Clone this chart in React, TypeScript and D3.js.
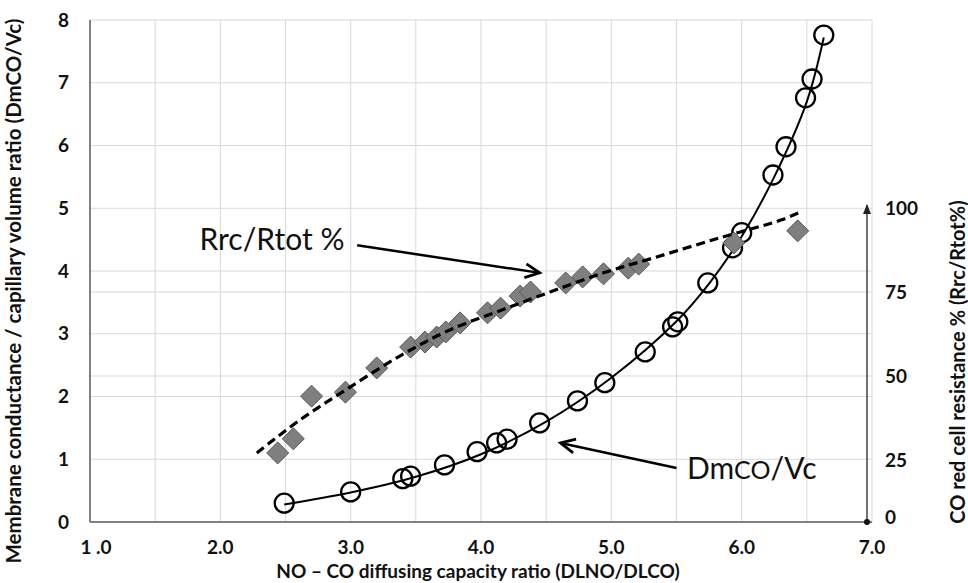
import React, { useEffect, useRef } from "react";
import * as d3 from "d3";

// DmCO/Vc (open circles, left axis)
const dmX = [2.49, 3.0, 3.4, 3.46, 3.72, 3.97, 4.12, 4.2, 4.45, 4.74, 4.95, 5.26, 5.47, 5.51, 5.74, 5.93, 6.0, 6.24, 6.34, 6.49, 6.54, 6.63];
const dmY = [0.3, 0.48, 0.69, 0.73, 0.91, 1.12, 1.26, 1.32, 1.58, 1.93, 2.22, 2.71, 3.11, 3.19, 3.81, 4.37, 4.61, 5.53, 5.98, 6.76, 7.06, 7.76];
// fitted curve for DmCO/Vc
const dmFitX = [2.49, 3.0, 3.5, 4.0, 4.5, 5.0, 5.5, 5.75, 6.0, 6.25, 6.5, 6.63];
const dmFitY = [0.28, 0.47, 0.72, 1.08, 1.6, 2.3, 3.2, 3.8, 4.55, 5.5, 6.7, 7.72];

// Rrc/Rtot % (grey diamonds, right axis)
const rrcX = [2.44, 2.56, 2.7, 2.96, 3.2, 3.46, 3.57, 3.66, 3.73, 3.84, 4.05, 4.15, 4.3, 4.38, 4.65, 4.78, 4.94, 5.13, 5.21, 5.94, 6.43];
const rrcY = [27.1, 31.3, 44.0, 45.2, 52.4, 58.6, 60.1, 61.6, 63.1, 65.8, 68.8, 70.2, 73.8, 75.0, 77.7, 79.5, 80.4, 82.1, 83.3, 89.6, 93.2];
// fitted dashed curve
const rrcFitX = [2.28, 2.61, 2.96, 3.38, 3.76, 4.15, 4.53, 4.94, 5.32, 5.83, 6.3, 6.45];
const rrcFitY = [27.1, 36.9, 45.8, 56.0, 63.7, 69.5, 75.0, 80.7, 85.1, 91.1, 96.4, 98.8];

const xTicks = [1, 2, 3, 4, 5, 6, 7];
const xTickLabels = ["1 .0", "2.0", "3.0", "4.0", "5.0", "6.0", "7.0"];
const xGrid = [1.5, 2, 2.5, 3, 3.5, 4, 4.5, 5, 5.5, 6, 6.5, 7];
const leftTicks = [0, 1, 2, 3, 4, 5, 6, 7, 8];
const rightTicks = [25, 50, 75, 100];

const font = "Lato, 'Open Sans', sans-serif";

export default function App() {
  const ref = useRef<SVGSVGElement>(null);

  useEffect(() => {
    const svg = d3.select(ref.current);
    svg.selectAll("*").remove();

    const x = d3.scaleLinear().domain([1, 7]).range([90, 872]);
    const y = d3.scaleLinear().domain([0, 8]).range([522, 20]);
    const yR = d3.scaleLinear().domain([25, 100]).range([460, 208]);

    // grid
    const grid = svg.append("g").attr("stroke", "#d9d9d9").attr("stroke-width", 1);
    xGrid.forEach((v) => {
      grid.append("line").attr("x1", x(v)).attr("x2", x(v)).attr("y1", y(8)).attr("y2", y(0));
    });
    leftTicks.slice(1).forEach((v) => {
      grid.append("line").attr("x1", x(1)).attr("x2", x(7)).attr("y1", y(v)).attr("y2", y(v));
    });
    [50, 75].forEach((v) => {
      grid.append("line").attr("x1", x(1)).attr("x2", x(7)).attr("y1", yR(v)).attr("y2", yR(v));
    });

    // axes lines
    svg.append("line").attr("x1", x(1)).attr("x2", x(1)).attr("y1", y(8)).attr("y2", y(0))
      .attr("stroke", "#595959").attr("stroke-width", 1.5);
    svg.append("line").attr("x1", x(1)).attr("x2", x(7)).attr("y1", y(0)).attr("y2", y(0))
      .attr("stroke", "#595959").attr("stroke-width", 1.5);

    // left ticks
    svg.append("g").selectAll("text").data(leftTicks).join("text")
      .attr("x", 69).attr("y", (d) => y(d)).attr("dy", "0.35em")
      .attr("text-anchor", "end").attr("font-family", font).attr("font-weight", "bold")
      .attr("font-size", 19).attr("fill", "#111").text((d) => d);

    // bottom ticks
    svg.append("g").selectAll("text").data(xTicks).join("text")
      .attr("x", (d) => x(d) + (d === 1 ? 6 : 0)).attr("y", 554)
      .attr("text-anchor", "middle").attr("font-family", font).attr("font-weight", "bold")
      .attr("font-size", 19).attr("fill", "#111").text((d, i) => xTickLabels[i]);

    // right axis (arrow)
    const ax = 867;
    svg.append("line").attr("x1", ax).attr("x2", ax).attr("y1", y(0)).attr("y2", yR(100) - 3)
      .attr("stroke", "#404040").attr("stroke-width", 1.5);
    svg.append("path")
      .attr("d", `M${ax - 4},${yR(100) + 6}L${ax},${yR(100) - 4}L${ax + 4},${yR(100) + 6}Z`)
      .attr("fill", "#222");
    svg.append("circle").attr("cx", ax).attr("cy", y(0)).attr("r", 3).attr("fill", "#111");

    svg.append("g").selectAll("text").data(rightTicks).join("text")
      .attr("x", 885).attr("y", (d) => yR(d)).attr("dy", "0.35em")
      .attr("font-family", font).attr("font-weight", "bold")
      .attr("font-size", 19).attr("fill", "#111").text((d) => d);
    svg.append("text").attr("x", 885).attr("y", y(0) - 5).attr("dy", "0.35em")
      .attr("font-family", font).attr("font-weight", "bold")
      .attr("font-size", 19).attr("fill", "#111").text("0");

    // axis titles
    svg.append("text")
      .attr("transform", `translate(21, 291) rotate(-90)`)
      .attr("text-anchor", "middle").attr("font-family", font).attr("font-weight", "bold")
      .attr("font-size", 20.5).attr("fill", "#111")
      .text("Membrane conductance / capillary volume ratio (DmCO/Vc)");
    svg.append("text")
      .attr("transform", `translate(965, 362) rotate(-90)`)
      .attr("text-anchor", "middle").attr("font-family", font).attr("font-weight", "bold")
      .attr("font-size", 20).attr("fill", "#111")
      .text("CO red cell resistance % (Rrc/Rtot%)");
    svg.append("text")
      .attr("x", 478).attr("y", 578)
      .attr("text-anchor", "middle").attr("font-family", font).attr("font-weight", "bold")
      .attr("font-size", 19).attr("fill", "#111")
      .text("NO \u2013 CO diffusing capacity ratio (DLNO/DLCO)");

    // DmCO/Vc curve + circles
    const dmFit = dmFitX.map((v, i) => [v, dmFitY[i]] as [number, number]);
    const dmLine = d3.line<[number, number]>().x((d) => x(d[0])).y((d) => y(d[1])).curve(d3.curveCatmullRom);
    svg.append("path")
      .attr("d", dmLine(dmFit))
      .attr("fill", "none").attr("stroke", "#000").attr("stroke-width", 2);
    svg.append("g").selectAll("circle").data(dmX).join("circle")
      .attr("cx", (d) => x(d)).attr("cy", (d, i) => y(dmY[i])).attr("r", 9.5)
      .attr("fill", "none").attr("stroke", "#000").attr("stroke-width", 2.3);

    // Rrc diamonds
    svg.append("g").selectAll("path").data(rrcX).join("path")
      .attr("d", (d, i) => {
        const cx = x(d), cy = yR(rrcY[i]), s = 11;
        return `M${cx},${cy - s}L${cx + s},${cy}L${cx},${cy + s}L${cx - s},${cy}Z`;
      })
      .attr("fill", "#7f7f7f").attr("stroke", "#595959").attr("stroke-width", 1);

    const rrcFit = rrcFitX.map((v, i) => [v, rrcFitY[i]] as [number, number]);
    const rrcLine = d3.line<[number, number]>().x((d) => x(d[0])).y((d) => yR(d[1])).curve(d3.curveCatmullRom);
    svg.append("path")
      .attr("d", rrcLine(rrcFit))
      .attr("fill", "none").attr("stroke", "#000").attr("stroke-width", 3.2)
      .attr("stroke-dasharray", "9,5");

    // annotations
    const arrow = (x1: number, y1: number, x2: number, y2: number) => {
      const a = Math.atan2(y2 - y1, x2 - x1);
      const L = 16, w = 0.45;
      svg.append("line").attr("x1", x1).attr("y1", y1).attr("x2", x2).attr("y2", y2)
        .attr("stroke", "#000").attr("stroke-width", 2.5);
      svg.append("path")
        .attr("d", `M${x2 - L * Math.cos(a - w)},${y2 - L * Math.sin(a - w)}L${x2},${y2}L${x2 - L * Math.cos(a + w)},${y2 - L * Math.sin(a + w)}`)
        .attr("fill", "none").attr("stroke", "#000").attr("stroke-width", 2.8);
    };
    svg.append("text").attr("x", x(1.84)).attr("y", y(4.33))
      .attr("font-family", font).attr("font-size", 30).attr("fill", "#111").text("Rrc/Rtot %");
    arrow(x(3.05), y(4.41), x(4.45), y(3.97));

    const t = svg.append("text").attr("x", x(5.58)).attr("y", y(0.69))
      .attr("font-family", font).attr("font-size", 30).attr("fill", "#111");
    t.append("tspan").text("Dm");
    t.append("tspan").attr("font-size", 25).text("CO");
    t.append("tspan").text("/Vc");
    arrow(x(5.5), y(0.86), x(4.61), y(1.26));
  }, []);

  return (
    <svg
      ref={ref}
      width={968}
      height={583}
      style={{ position: "absolute", left: 0, top: 0, background: "#fff" }}
    />
  );
}
